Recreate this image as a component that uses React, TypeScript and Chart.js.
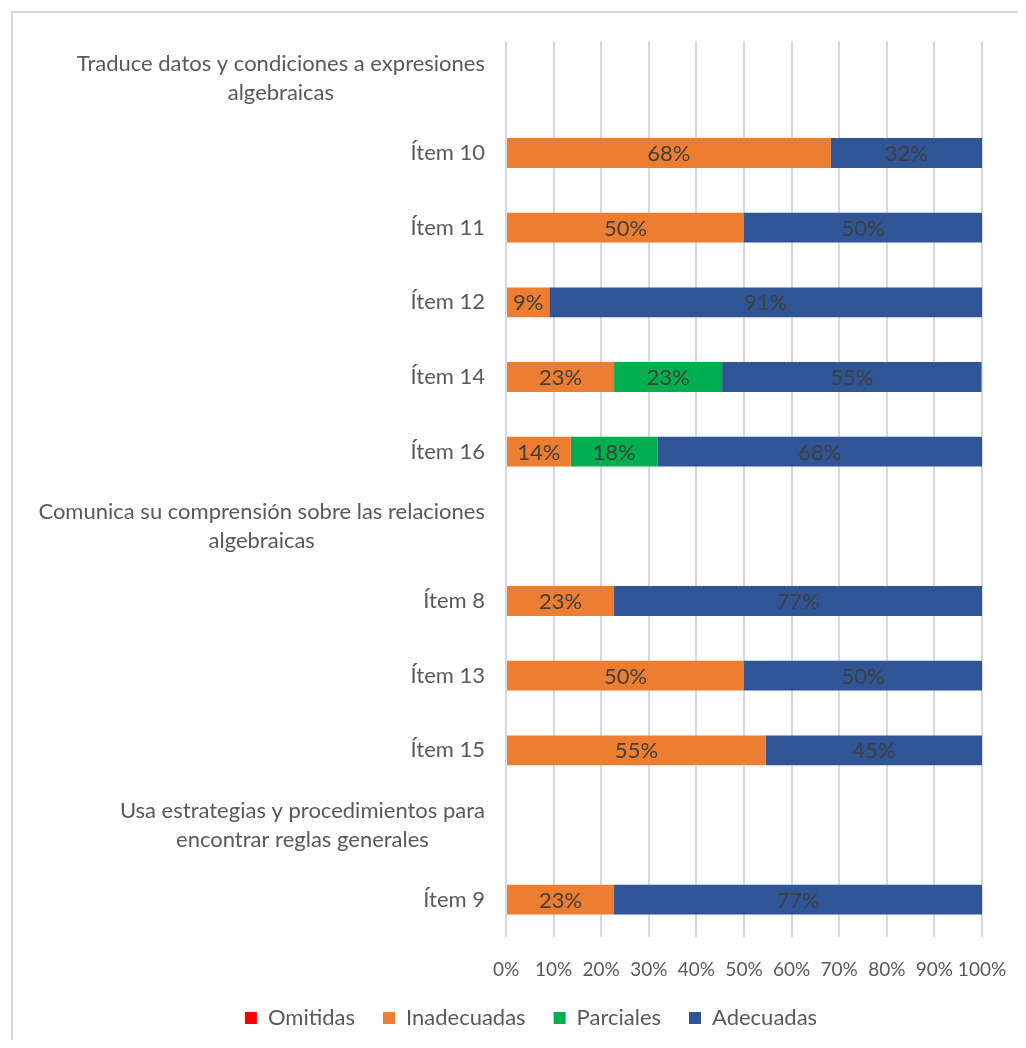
import React, { useEffect, useRef } from "react";
import { Chart, registerables } from "chart.js";

Chart.register(...registerables);

const categories: string[][] = [
  ["Traduce datos y condiciones a expresiones", "algebraicas"],
  ["Ítem 10"],
  ["Ítem 11"],
  ["Ítem 12"],
  ["Ítem 14"],
  ["Ítem 16"],
  ["Comunica su comprensión sobre las relaciones", "algebraicas"],
  ["Ítem 8"],
  ["Ítem 13"],
  ["Ítem 15"],
  ["Usa estrategias y procedimientos para", "encontrar reglas generales"],
  ["Ítem 9"],
];

const omitidas: (number | null)[] = [null, 0, 0, 0, 0, 0, null, 0, 0, 0, null, 0];
const inadecuadas: (number | null)[] = [null, 68.2, 50, 9.1, 22.7, 13.6, null, 22.7, 50, 54.6, null, 22.7];
const parciales: (number | null)[] = [null, 0, 0, 0, 22.7, 18.2, null, 0, 0, 0, null, 0];
const adecuadas: (number | null)[] = [null, 31.8, 50, 90.9, 54.5, 68.2, null, 77.3, 50, 45.4, null, 77.3];

const xTicks: number[] = [0, 10, 20, 30, 40, 50, 60, 70, 80, 90, 100];

const FONT = "Lato, 'Open Sans', sans-serif";
const TEXT = "#595959";

const yLabelPlugin = {
  id: "yLabelPlugin",
  afterDraw(chart: any) {
    const ctx = chart.ctx;
    const yScale = chart.scales.y;
    const left = chart.chartArea.left;
    ctx.save();
    ctx.font = `22px ${FONT}`;
    ctx.fillStyle = TEXT;
    ctx.textBaseline = "middle";
    const lh = 29;
    categories.forEach((lines, i) => {
      const y = yScale.getPixelForValue(i);
      const xr = left - 21;
      if (lines.length === 1) {
        ctx.textAlign = "right";
        ctx.fillText(lines[0], xr, y);
      } else {
        const widest = Math.max(...lines.map((l) => ctx.measureText(l).width));
        ctx.textAlign = "center";
        const cx = xr - widest / 2;
        const y0 = y - ((lines.length - 1) * lh) / 2;
        lines.forEach((l, k) => ctx.fillText(l, cx, y0 + k * lh));
      }
    });
    ctx.restore();
  },
};

const valueLabelPlugin = {
  id: "valueLabelPlugin",
  afterDatasetsDraw(chart: any) {
    const ctx = chart.ctx;
    ctx.save();
    ctx.font = `22px ${FONT}`;
    ctx.fillStyle = "#404040";
    ctx.textAlign = "center";
    ctx.textBaseline = "middle";
    chart.data.datasets.forEach((ds: any, di: number) => {
      const meta = chart.getDatasetMeta(di);
      meta.data.forEach((el: any, i: number) => {
        const v = ds.data[i];
        if (v === null || v === undefined || v <= 0) return;
        const c = el.getCenterPoint();
        ctx.fillText(Math.round(v) + "%", c.x, c.y + 1);
      });
    });
    ctx.restore();
  },
};

export default function App() {
  const ref = useRef<HTMLCanvasElement | null>(null);

  useEffect(() => {
    if (!ref.current) return;
    const chart = new Chart(ref.current, {
      type: "bar",
      data: {
        labels: categories.map((c) => c.join(" ")),
        datasets: [
          { label: "Omitidas", data: omitidas, backgroundColor: "#FF0000" },
          { label: "Inadecuadas", data: inadecuadas, backgroundColor: "#ED7D31" },
          { label: "Parciales", data: parciales, backgroundColor: "#00B050" },
          { label: "Adecuadas", data: adecuadas, backgroundColor: "#2F5597" },
        ],
      },
      options: {
        indexAxis: "y",
        animation: false,
        responsive: false,
        maintainAspectRatio: false,
        datasets: { bar: { barPercentage: 0.4, categoryPercentage: 1 } } as any,
        layout: { padding: { top: 28, right: 36, bottom: 34, left: 67 } },
        plugins: {
          tooltip: { enabled: false },
          legend: {
            position: "bottom",
            labels: {
              font: { family: FONT, size: 22 },
              color: TEXT,
              boxWidth: 12,
              boxHeight: 12,
              padding: 28,
            },
          },
        },
        scales: {
          x: {
            stacked: true,
            min: 0,
            max: 100,
            afterBuildTicks: (scale: any) => {
              scale.ticks = xTicks.map((v) => ({ value: v }));
            },
            afterFit: (scale: any) => {
              scale.height = 42;
              scale.paddingRight = 0;
              scale.paddingLeft = 0;
            },
            ticks: {
              autoSkip: false,
              maxRotation: 0,
              padding: 21,
              color: TEXT,
              font: { family: FONT, size: 19 },
              callback: (v: any) => v + "%",
            },
            grid: { color: "#d9d9d9", lineWidth: 2, drawTicks: false },
            border: { display: false },
          },
          y: {
            stacked: true,
            afterFit: (scale: any) => {
              scale.width = 426;
            },
            ticks: { display: false },
            grid: { display: false, drawTicks: false },
            border: { display: false },
          },
        },
      },
      plugins: [yLabelPlugin, valueLabelPlugin],
    });
    return () => chart.destroy();
  }, []);

  return (
    <div
      style={{
        marginLeft: 3,
        marginTop: 3,
        width: 1007,
        height: 1029,
        overflow: "hidden",
        boxSizing: "border-box",
        borderLeft: "2px solid #d9d9d9",
        borderTop: "2px solid #d9d9d9",
        background: "#fff",
      }}
    >
      <canvas ref={ref} width={1005} height={1060} style={{ display: "block" }} />
    </div>
  );
}
